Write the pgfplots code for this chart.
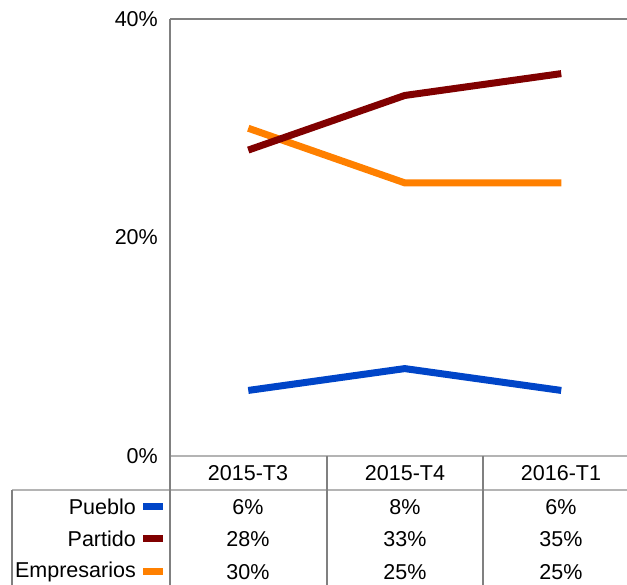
\documentclass[border=0pt]{standalone}
\usepackage{pgfplots}
\pgfplotsset{compat=1.18}
\usepackage{fontspec}
\setmainfont{Liberation Sans}
\definecolor{cPueblo}{RGB}{0,69,200}
\definecolor{cPartido}{RGB}{128,0,0}
\definecolor{cEmpr}{RGB}{255,128,0}
\definecolor{dgray}{RGB}{128,128,128}
\definecolor{lgray}{RGB}{180,180,180}
\begin{document}
\begin{tikzpicture}[x=1pt,y=1pt]
\begin{axis}[
  at={(170pt,129pt)}, anchor=south west,
  scale only axis, width=469.5pt, height=437pt,
  xmin=-0.5, xmax=2.5, ymin=0, ymax=40,
  axis line style={draw=none},
  xtick=\empty,
  ytick={0,20,40},
  yticklabel={\pgfmathprintnumber{\tick}\%},
  /pgf/number format/assume math mode=true,
  major tick length=0pt,
  tick style={draw=none},
  yticklabel style={font=\fontsize{21.5}{25}\selectfont, inner sep=0pt, xshift=-12pt},
  clip=false,
]
\addplot[cPueblo, line width=7pt, line cap=butt] coordinates {(0,6) (1,8) (2,6)};
\addplot[cEmpr, line width=7pt, line cap=butt] coordinates {(0,30) (1,25) (2,25)};
\addplot[cPartido, line width=7pt, line cap=butt] coordinates {(0,28) (1,33) (2,35)};
\end{axis}
% frame and table lines
\draw[lgray, line width=1.5pt] (170,129) -- (640,129);
\draw[lgray, line width=1.5pt] (12,95) -- (640,95);
\draw[dgray, line width=1.2pt] (170,566) -- (640,566);
\draw[dgray, line width=1.2pt] (170,566) -- (170,-5);
\draw[dgray, line width=1.2pt] (327,129) -- (327,-5);
\draw[dgray, line width=1.2pt] (483,129) -- (483,-5);
\draw[dgray, line width=1.2pt] (12,95) -- (12,-5);
\begin{scope}[every node/.style={font=\fontsize{21.5}{25}\selectfont, inner sep=0pt}]
\node at (248,112) {2015-T3};
\node at (405,112) {2015-T4};
\node at (561,112) {2016-T1};
\node[anchor=east] at (136,78) {Pueblo};
\node[anchor=east] at (136,46) {Partido};
\node[anchor=east] at (136,13) {Empresarios};
\node at (248,78) {6\%};
\node at (405,78) {8\%};
\node at (561,78) {6\%};
\node at (248,46) {28\%};
\node at (405,46) {33\%};
\node at (561,46) {35\%};
\node at (248,13) {30\%};
\node at (405,13) {25\%};
\node at (561,13) {25\%};
\end{scope}
\fill[cPueblo] (143,74.5) rectangle (163,81.5);
\fill[cPartido] (143,42.5) rectangle (163,49.5);
\fill[cEmpr] (143,9.5) rectangle (163,16.5);
\pgfresetboundingbox
\useasboundingbox (0,0) rectangle (627,585);
\end{tikzpicture}
\end{document}
